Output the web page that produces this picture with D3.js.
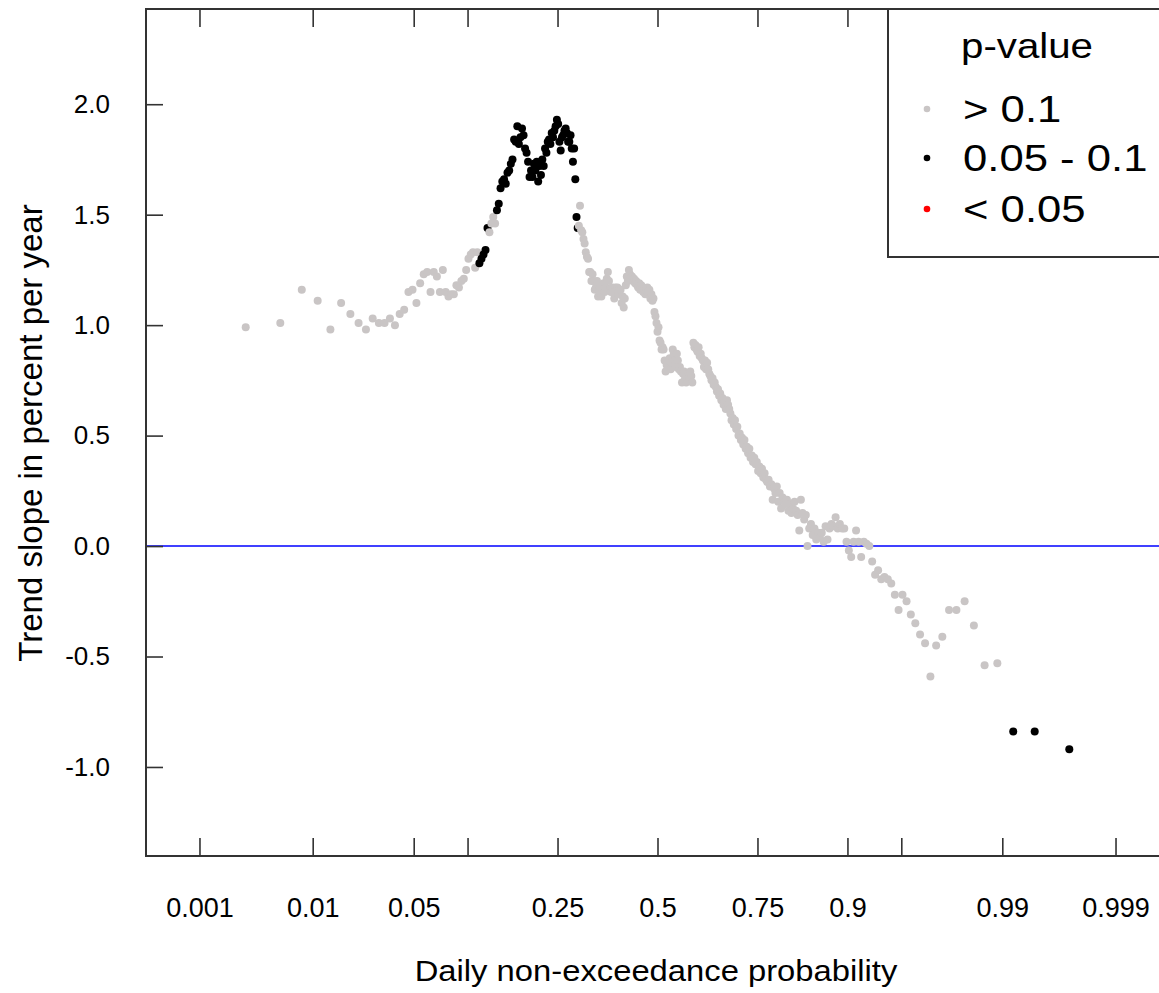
<!DOCTYPE html>
<html>
<head>
<meta charset="utf-8">
<script src="https://cdn.jsdelivr.net/npm/d3@7"></script>
<style>
  body { margin: 0; background: #fff; }
  svg { display: block; font-family: "Liberation Sans", Arial, sans-serif; }
</style>
</head>
<body>
<svg id="chart" width="1159" height="993"></svg>
<script>
// trend slope (% per year), one value per daily quantile, k = 1..365
const trendSlope = [
  0.99, 1.01, 1.16, 1.11, 0.98, 1.10, 1.05, 1.01, 0.98, 1.03,
  1.01, 1.01, 1.03, 1.00, 1.05, 1.07, 1.15, 1.16, 1.10, 1.19,
  1.23, 1.24, 1.15, 1.24, 1.22, 1.15, 1.25, 1.15, 1.13, 1.14,
  1.14, 1.18, 1.17, 1.20, 1.21, 1.25, 1.30, 1.32, 1.33, 1.26,
  1.33, 1.28, 1.30, 1.32, 1.34, 1.44, 1.42, 1.46, 1.49, 1.46,
  1.52, 1.55, 1.62, 1.65, 1.66, 1.64, 1.69, 1.70, 1.73, 1.75,
  1.84, 1.83, 1.90, 1.82, 1.85, 1.89, 1.86, 1.80, 1.78, 1.74,
  1.67, 1.70, 1.67, 1.73, 1.70, 1.74, 1.65, 1.72, 1.68, 1.75,
  1.72, 1.80, 1.78, 1.83, 1.84, 1.82, 1.87, 1.85, 1.88, 1.90,
  1.93, 1.91, 1.83, 1.79, 1.85, 1.86, 1.88, 1.89, 1.87, 1.83,
  1.83, 1.86, 1.80, 1.74, 1.80, 1.66, 1.49, 1.44, 1.45, 1.54,
  1.43, 1.42, 1.39, 1.37, 1.33, 1.31, 1.30, 1.24, 1.24, 1.20,
  1.23, 1.20, 1.16, 1.17, 1.20, 1.13, 1.16, 1.17, 1.13, 1.16,
  1.19, 1.15, 1.17, 1.21, 1.24, 1.20, 1.16, 1.15, 1.17, 1.15,
  1.12, 1.17, 1.16, 1.17, 1.14, 1.16, 1.16, 1.10, 1.13, 1.08,
  1.12, 1.18, 1.22, 1.20, 1.25, 1.23, 1.21, 1.22, 1.20, 1.21,
  1.19, 1.20, 1.18, 1.17, 1.19, 1.16, 1.18, 1.17, 1.15, 1.16,
  1.14, 1.16, 1.17, 1.15, 1.16, 1.12, 1.14, 1.11, 1.12, 1.06,
  1.04, 1.01, 0.97, 0.99, 0.93, 0.92, 0.89, 0.90, 0.89, 0.84,
  0.79, 0.82, 0.80, 0.84, 0.85, 0.80, 0.83, 0.89, 0.87, 0.84,
  0.81, 0.87, 0.84, 0.80, 0.81, 0.79, 0.74, 0.78, 0.79, 0.76,
  0.74, 0.75, 0.78, 0.76, 0.79, 0.77, 0.74, 0.92, 0.90, 0.91,
  0.89, 0.88, 0.90, 0.86, 0.87, 0.85, 0.84, 0.81, 0.84, 0.80,
  0.83, 0.80, 0.78, 0.77, 0.75, 0.76, 0.73, 0.74, 0.72, 0.70,
  0.71, 0.68, 0.69, 0.66, 0.67, 0.64, 0.65, 0.62, 0.66, 0.64,
  0.62, 0.60, 0.57, 0.58, 0.55, 0.57, 0.53, 0.54, 0.50, 0.51,
  0.48, 0.49, 0.46, 0.48, 0.44, 0.45, 0.42, 0.44, 0.40, 0.41,
  0.38, 0.40, 0.37, 0.38, 0.34, 0.36, 0.33, 0.35, 0.31, 0.33,
  0.30, 0.29, 0.30, 0.27, 0.28, 0.21, 0.26, 0.24, 0.27, 0.20,
  0.24, 0.17, 0.22, 0.20, 0.19, 0.21, 0.16, 0.19, 0.15, 0.17,
  0.20, 0.16, 0.14, 0.07, 0.21, 0.15, 0.12, 0.14, 0.00, 0.08,
  0.10, 0.05, 0.08, 0.03, 0.06, 0.04, 0.06, 0.02, 0.09, 0.03,
  0.08, 0.10, 0.09, 0.13, 0.08, 0.10, 0.08, 0.08, 0.02, -0.02,
  -0.05, 0.02, 0.07, 0.02, -0.05, 0.02, 0.01, 0.00, -0.07, -0.13,
  -0.11, -0.15, -0.14, -0.15, -0.17, -0.22, -0.29, -0.22, -0.25, -0.31,
  -0.35, -0.40, -0.44, -0.59, -0.45, -0.41, -0.29, -0.29, -0.25, -0.36,
  -0.54, -0.53, -0.84, -0.84, -0.92
];

// quantile numbers (k) whose p-value falls in 0.05 - 0.1, inclusive ranges
const pBand05to10 = [[42, 46], [51, 108], [363, 365]];
// quantile numbers with p < 0.05 (none in this plot)
const pBandBelow05 = [];

const probTicks = [0.001, 0.01, 0.05, 0.1, 0.25, 0.5, 0.75, 0.9, 0.95, 0.99, 0.999];
const probLabels = ["0.001", "0.01", "0.05", "", "0.25", "0.5", "0.75", "0.9", "", "0.99", "0.999"];
const slopeTicks = [-1.0, -0.5, 0.0, 0.5, 1.0, 1.5, 2.0];

const legendTitle = "p-value";
const legendLabels = ["> 0.1", "0.05 - 0.1", "< 0.05"];
const legendColors = ["#c9c5c5", "#000000", "#ff0000"];

// inverse normal cdf (Acklam), used for the probability axis
function qnorm(p) {
  const a = [-3.969683028665376e+01, 2.209460984245205e+02, -2.759285104469687e+02, 1.383577518672690e+02, -3.066479806614716e+01, 2.506628277459239e+00];
  const b = [-5.447609879822406e+01, 1.615858368580409e+02, -1.556989798598866e+02, 6.680131188771972e+01, -1.328068155288572e+01];
  const c = [-7.784894002430293e-03, -3.223964580411365e-01, -2.400758277161838e+00, -2.549671010229528e+00, 4.374664141464968e+00, 2.938163982698783e+00];
  const d = [7.784695709041462e-03, 3.224671290700398e-01, 2.445134137142996e+00, 3.754408661907416e+00];
  const plow = 0.02425;
  let q, r;
  if (p < plow) {
    q = Math.sqrt(-2 * Math.log(p));
    return (((((c[0]*q+c[1])*q+c[2])*q+c[3])*q+c[4])*q+c[5]) / ((((d[0]*q+d[1])*q+d[2])*q+d[3])*q+1);
  }
  if (p > 1 - plow) {
    q = Math.sqrt(-2 * Math.log(1 - p));
    return -(((((c[0]*q+c[1])*q+c[2])*q+c[3])*q+c[4])*q+c[5]) / ((((d[0]*q+d[1])*q+d[2])*q+d[3])*q+1);
  }
  q = p - 0.5; r = q * q;
  return (((((a[0]*r+a[1])*r+a[2])*r+a[3])*r+a[4])*r+a[5])*q / (((((b[0]*r+b[1])*r+b[2])*r+b[3])*r+b[4])*r+1);
}

const nDays = trendSlope.length;
const inRanges = (k, ranges) => ranges.some(r => k >= r[0] && k <= r[1]);
const points = trendSlope.map((v, i) => {
  const k = i + 1;
  let cls = 0;
  if (inRanges(k, pBand05to10)) cls = 1;
  if (inRanges(k, pBandBelow05)) cls = 2;
  return { p: k / (nDays + 1), v: v, cls: cls };
});

const plotL = 146, plotR = 1169, plotT = 9, plotB = 856;

const svg = d3.select("#chart");

const x = d3.scaleLinear().domain([-3.451, 3.451]).range([plotL, plotR]);
const y = d3.scaleLinear().domain([-1.403, 2.431]).range([plotB, plotT]);

// zero line
svg.append("line")
  .attr("x1", plotL).attr("x2", plotR)
  .attr("y1", y(0)).attr("y2", y(0))
  .attr("stroke", "#0000ff").attr("stroke-width", 1.5);

// points
svg.append("g")
  .selectAll("circle")
  .data(points)
  .enter()
  .append("circle")
  .attr("cx", d => x(qnorm(d.p)))
  .attr("cy", d => y(d.v))
  .attr("r", 4)
  .attr("fill", d => legendColors[d.cls]);

// axes, ticks pointing inward
const zTicks = probTicks.map(qnorm);
const xAxis = d3.axisBottom(x)
  .tickValues(zTicks)
  .tickSize(-18)
  .tickFormat((d, i) => probLabels[i]);
const gx = svg.append("g").attr("transform", `translate(0,${plotB})`).call(xAxis);
gx.select(".domain").remove();
gx.selectAll("text").attr("y", 61).attr("dy", null)
  .attr("font-size", 27).attr("fill", "#000");

const gxTop = svg.append("g").attr("transform", `translate(0,${plotT})`)
  .call(d3.axisTop(x).tickValues(zTicks).tickSize(-18).tickFormat(""));
gxTop.select(".domain").remove();

const yAxis = d3.axisLeft(y)
  .tickValues(slopeTicks)
  .tickSize(-17)
  .tickPadding(36)
  .tickFormat(d => d.toFixed(1));
const gy = svg.append("g").attr("transform", `translate(${plotL},0)`).call(yAxis);
gy.select(".domain").remove();
gy.selectAll("text").attr("font-size", 26).attr("fill", "#000");

svg.selectAll(".tick line").attr("stroke", "#333").attr("stroke-width", 1.6);
svg.selectAll(".tick text").attr("font-family", "Liberation Sans, Arial, sans-serif");

// frame
svg.append("rect")
  .attr("x", plotL).attr("y", plotT)
  .attr("width", plotR - plotL).attr("height", plotB - plotT)
  .attr("fill", "none").attr("stroke", "#333").attr("stroke-width", 2);

// text with optional horizontal stretch
function label(g, txt, tx, ty, size, sx, anchor) {
  return g.append("text")
    .attr("transform", `translate(${tx},${ty}) scale(${sx},1)`)
    .attr("text-anchor", anchor)
    .attr("font-size", size)
    .attr("fill", "#000")
    .text(txt);
}

// axis titles
label(svg, "Daily non-exceedance probability", 656, 981, 29, 1.13, "middle");
svg.append("text")
  .attr("transform", "translate(42,433) rotate(-90)")
  .attr("text-anchor", "middle")
  .attr("font-size", 33)
  .text("Trend slope in percent per year");

// legend
const lg = svg.append("g");
lg.append("rect")
  .attr("x", 888).attr("y", plotT)
  .attr("width", 300).attr("height", 257 - plotT)
  .attr("fill", "#fff").attr("stroke", "#333").attr("stroke-width", 2);
label(lg, legendTitle, 1027, 58, 35, 1.15, "middle");
const legendY = [109, 158, 209];
legendLabels.forEach((t, i) => {
  lg.append("circle").attr("cx", 927).attr("cy", legendY[i]).attr("r", 3.3)
    .attr("fill", legendColors[i]);
  label(lg, t, 963, legendY[i] + 13, 37, 1.18, "start");
});
</script>
</body>
</html>
